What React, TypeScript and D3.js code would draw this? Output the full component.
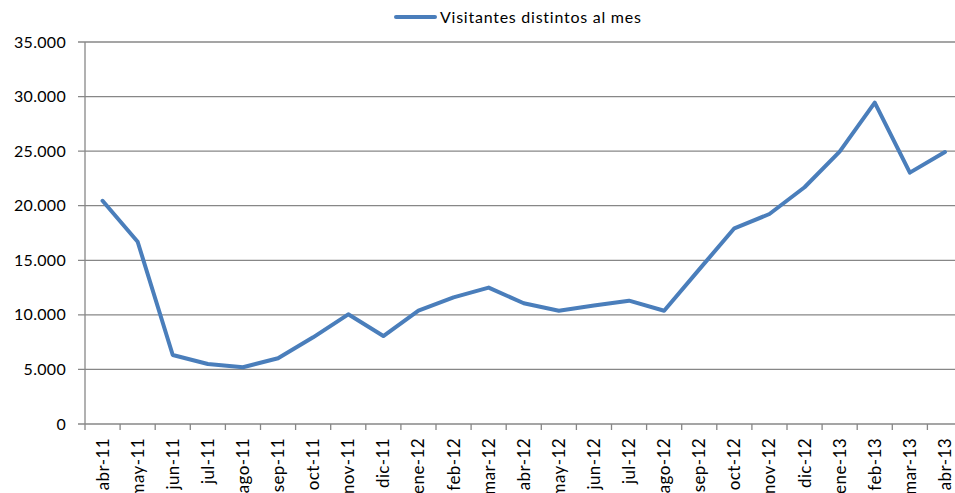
import React from "react";
import * as d3 from "d3";

const months = [
  "abr-11", "may-11", "jun-11", "jul-11", "ago-11", "sep-11", "oct-11", "nov-11", "dic-11",
  "ene-12", "feb-12", "mar-12", "abr-12", "may-12", "jun-12", "jul-12", "ago-12", "sep-12",
  "oct-12", "nov-12", "dic-12", "ene-13", "feb-13", "mar-13", "abr-13",
];
const visitors = [
  20450, 16700, 6320, 5500, 5200, 6020, 7940, 10050, 8060,
  10380, 11600, 12500, 11060, 10380, 10850, 11300, 10380, 14170,
  17930, 19240, 21690, 24950, 29440, 23030, 24920,
];
const yTicks = [0, 5000, 10000, 15000, 20000, 25000, 30000, 35000];
const seriesName = "Visitantes distintos al mes";

const W = 955;
const H = 493;
const FONT = "Lato, 'Open Sans', sans-serif";

export default function App() {
  const left = 85;
  const right = 962.5;
  const top = 42;
  const bottom = 424;

  const x = d3.scaleBand<string>().domain(months).range([left, right]).padding(0);
  const y = d3.scaleLinear().domain([0, 35000]).range([bottom, top]);
  const fmt = (v: number) => (v === 0 ? "0" : d3.format(",")(v).replace(/,/g, "."));

  const line = d3
    .line<number>()
    .x((_, i) => (x(months[i]) as number) + x.bandwidth() / 2)
    .y((d) => y(d));

  const tickXs = months.map((m) => x(m) as number).concat([right]);

  return (
    <svg
      width={W}
      height={H}
      style={{ position: "absolute", left: 0, top: 0, background: "#fff" }}
      fontFamily={FONT}
    >
      {yTicks.map((t) => (
        <line key={t} x1={left - 7} x2={W} y1={y(t)} y2={y(t)} stroke="#878787" strokeWidth={1.3} />
      ))}
      <line x1={left} x2={left} y1={top} y2={bottom} stroke="#878787" strokeWidth={1.3} />
      {yTicks.map((t) => (
        <text key={t} x={66} y={y(t)} dy="0.35em" textAnchor="end" fontSize={16} letterSpacing={0.3} fill="#000">
          {fmt(t)}
        </text>
      ))}
      {tickXs.map((tx, i) => (
        <line key={i} x1={tx} x2={tx} y1={bottom} y2={bottom + 6} stroke="#878787" strokeWidth={1.3} />
      ))}
      {months.map((m) => {
        const cx = (x(m) as number) + x.bandwidth() / 2;
        return (
          <text
            key={m}
            transform={`translate(${cx},${bottom + 14}) rotate(-90)`}
            textAnchor="end"
            dy="0.35em"
            fontSize={17}
            letterSpacing={0.4}
            fill="#000"
          >
            {m}
          </text>
        );
      })}
      <path
        d={line(visitors) || ""}
        fill="none"
        stroke="#4a7ebb"
        strokeWidth={4}
        strokeLinejoin="round"
        strokeLinecap="round"
      />
      <line x1={396} x2={435} y1={17} y2={17} stroke="#4a7ebb" strokeWidth={4} strokeLinecap="round" />
      <text x={440} y={17} dy="0.35em" fontSize={16} letterSpacing={0.75} fill="#000">
        {seriesName}
      </text>
    </svg>
  );
}
